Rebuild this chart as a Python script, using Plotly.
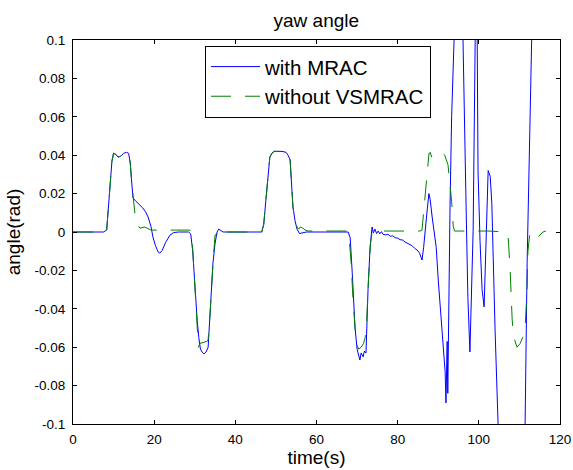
import plotly.graph_objects as go

# ---- data ----
t_mrac = [0, 7.5, 8.3, 9.0, 9.6, 10.0, 10.5, 11.1, 11.8, 12.5, 13.2, 13.7, 14.1, 14.5, 14.8,
          15.5, 16.5, 17.2, 17.9, 18.5, 19.2, 19.7, 20.3, 21.0, 21.4, 22.0, 22.8, 23.9, 24.8,
          26, 28.5, 29.0, 29.5, 30.0, 30.6, 31.0, 31.4, 31.8, 32.3, 32.8, 33.3, 33.7, 34.1,
          34.5, 35.0, 35.5, 35.9, 36.4, 37, 46.5, 47.0, 47.5, 48.0, 48.5, 49.0, 49.6, 50.3,
          51.5, 52.5, 53.0, 53.5, 53.9, 54.2, 54.7, 55.2, 55.8, 56.5, 57.5, 67.8, 68.3, 68.8,
          69.0, 69.5, 70.0, 70.3, 70.7, 71.0, 71.5, 71.8, 72.2, 72.7, 73.2, 73.7, 74.0, 74.4,
          74.8, 75.2, 75.6, 76.0, 76.4, 77.0, 77.6, 78.2, 78.8, 79.4, 80.0, 80.6, 81.2, 81.8,
          82.4, 83.0, 83.6, 84.2, 84.8, 85.4, 86.0, 86.4, 86.8, 87.3, 87.7, 88.0, 88.5, 89.0,
          89.5, 90.0, 90.5, 90.9, 91.3, 91.7, 91.9, 92.05, 92.2, 92.35, 92.6, 92.9, 93.3, 93.7,
          94.5, 95.3, 96.1, 96.8, 97.3, 97.8, 98.6, 99.1, 99.35, 99.6, 99.8, 100.3, 100.8,
          101.3, 101.8, 102.3, 102.8, 103.2, 104.0, 104.5, 105.5, 108.0, 110.5, 111.4, 111.9,
          112.4, 113.1, 113.5]
y_mrac = [0, 0, 0.001, 0.02, 0.037, 0.041, 0.0405, 0.039, 0.0395, 0.041, 0.0415, 0.041, 0.036,
          0.025, 0.0177, 0.016, 0.014, 0.0125, 0.0105, 0.0078, 0.003, -0.0026, -0.007, -0.0105,
          -0.011, -0.0095, -0.0055, -0.0016, -0.0003, 0, 0, -0.001, -0.01, -0.028, -0.046,
          -0.055, -0.061, -0.0625, -0.0635, -0.0625, -0.060, -0.045, -0.030, -0.016, -0.006, 0,
          0.0015, 0.001, 0, 0, 0.004, 0.016, 0.030, 0.039, 0.041, 0.042, 0.042, 0.042, 0.0415,
          0.040, 0.0375, 0.025, 0.013, 0.006, 0.0015, -0.0008, -0.0005, 0, 0, -0.003, -0.021,
          -0.032, -0.050, -0.061, -0.063, -0.0667, -0.063, -0.065, -0.062, -0.063, -0.030,
          -0.008, 0.0026, -0.0005, 0.0015, -0.0008, 0.0005, -0.001, 0.0002, -0.0012, -0.0015,
          -0.0012, -0.0022, -0.002, -0.0030, -0.0032, -0.004, -0.0042, -0.0052, -0.0058,
          -0.0068, -0.0072, -0.0085, -0.0094, -0.011, -0.0146, -0.008, 0.003, 0.012, 0.020,
          0.017, 0.0078, -0.001, -0.008, -0.025, -0.040, -0.0526, -0.062, -0.073, -0.089,
          -0.057, -0.057, -0.084, -0.035, 0.013, 0.060, 0.099, 0.14, 0.16, 0.10, 0.02, -0.034,
          -0.0625, 0.001, 0.10, 0.12, 0.10, 0.032, -0.005, -0.030, -0.039, -0.006, 0.032,
          0.029, 0.015, -0.051, -0.10, -0.15, -0.20, -0.15, -0.10, -0.016, 0.036, 0.10, 0.15]

t_vsmrac = [0, 7.5, 8.3, 9.0, 9.6, 10.0, 10.5, 11.1, 11.8, 12.5, 13.2, 13.7, 14.1, 14.5, 14.8,
            15.5, 16.5, 17.7, 19.2, 23.0, 28.8, 29.3, 30.1, 30.6, 30.9, 31.3, 32.0, 33.0, 33.3,
            33.8, 34.5, 35.0, 35.5, 36.0, 36.5, 37.0, 37.8, 46.5, 47.0, 47.5, 48.0, 48.5, 49.0,
            49.6, 50.3, 51.5, 52.5, 53.0, 53.5, 53.9, 54.2, 54.7, 55.2, 55.6, 56.0, 56.6, 57.2,
            58.0, 67.6, 68.0, 68.5, 69.0, 69.5, 70.0, 70.4, 71.0, 71.6, 72.0, 72.4, 72.8, 73.3,
            73.7, 74.5, 76.0, 85.5, 86.0, 86.3, 86.7, 87.2, 87.7, 88.0, 88.4, 88.8, 89.3, 89.8,
            90.4, 91.0, 91.6, 92.4, 92.9, 93.3, 93.7, 94.0, 102.5, 106.5, 107.2, 107.7, 108.2,
            108.5, 109.4, 110.2, 110.8, 111.4, 111.9, 112.1, 112.5, 112.9, 113.3, 113.8, 114.6,
            115.2, 115.8, 116.5]
y_vsmrac = [0, 0, 0.001, 0.02, 0.037, 0.041, 0.0405, 0.039, 0.0395, 0.041, 0.0415, 0.041,
            0.036, 0.025, 0.0177, 0.0047, 0.002, 0.0026, 0.001, 0.001, 0.001, -0.002, -0.034,
            -0.049, -0.060, -0.058, -0.0575, -0.057, -0.056, -0.042, -0.016, -0.0016, -0.001,
            -0.003, -0.0025, -0.0016, 0, 0, 0.004, 0.016, 0.030, 0.039, 0.041, 0.042, 0.042,
            0.042, 0.0415, 0.040, 0.0375, 0.025, 0.013, 0.006, 0.0026, 0.0015, 0.0026, 0.002,
            0.001, 0.0005, 0.0005, -0.002, -0.015, -0.035, -0.050, -0.059, -0.061, -0.060,
            -0.058, -0.055, -0.045, -0.025, -0.006, 0.0, 0.001, 0.0005, 0.0005, 0.001, 0.008,
            0.0177, 0.029, 0.0406, 0.0415, 0.039, 0.040, 0.0405, 0.040, 0.040, 0.041, 0.040,
            0.035, 0.025, 0.016, 0.003, 0.0005, 0.0005, 0.0, -0.0016, -0.019, -0.045, -0.054,
            -0.060, -0.058, -0.055, -0.050, -0.029, -0.010, -0.002, 0.0, -0.002, -0.0028,
            -0.0026, -0.001, 0.0, 0.0005]

x_ticks = [0, 20, 40, 60, 80, 100, 120]
y_ticks = [0.1, 0.08, 0.06, 0.04, 0.02, 0, -0.02, -0.04, -0.06, -0.08, -0.1]
y_ticktext = ["0.1", "0.08", "0.06", "0.04", "0.02", "0", "-0.02", "-0.04", "-0.06", "-0.08", "-0.1"]

FONT = "Liberation Sans, Arial, sans-serif"

fig = go.Figure()
fig.add_trace(go.Scatter(x=t_mrac, y=y_mrac, mode="lines", name="with MRAC",
                         line=dict(color="#0000ff", width=1)))
fig.add_trace(go.Scatter(x=t_vsmrac, y=y_vsmrac, mode="lines", name="without VSMRAC",
                         line=dict(color="#008000", width=1, dash="20px,14px")))

axis_common = dict(showgrid=False, zeroline=False, showline=True, linecolor="black",
                   linewidth=1, mirror="allticks", ticks="inside", ticklen=4,
                   tickcolor="black", automargin=False,
                   tickfont=dict(family=FONT, size=13.5, color="black"))

fig.update_layout(
    width=573, height=470,
    margin=dict(l=73, r=13, t=40, b=46, autoexpand=False),
    paper_bgcolor="white", plot_bgcolor="white",
    title=dict(text="yaw angle", x=0.552, xanchor="center", y=1 - 20 / 470, yanchor="middle",
               automargin=False, font=dict(family=FONT, size=19, color="black")),
    xaxis=dict(range=[0, 120], tickvals=x_ticks, ticklabelstandoff=3,
               title=dict(text="time(s)", standoff=4, font=dict(family=FONT, size=19, color="black")),
               **axis_common),
    yaxis=dict(range=[-0.1, 0.1], tickvals=y_ticks, ticktext=y_ticktext, ticklabelstandoff=4,
               title=dict(text="angle(rad)", standoff=8, font=dict(family=FONT, size=19, color="black")),
               **axis_common),
    legend=dict(x=0.271, y=0.985, xanchor="left", yanchor="top", bgcolor="white",
                bordercolor="black", borderwidth=1, itemwidth=49, tracegroupgap=0,
                font=dict(family=FONT, size=20.5, color="black")),
    showlegend=True,
    hovermode=False,
)

fig.write_html("out.html")
